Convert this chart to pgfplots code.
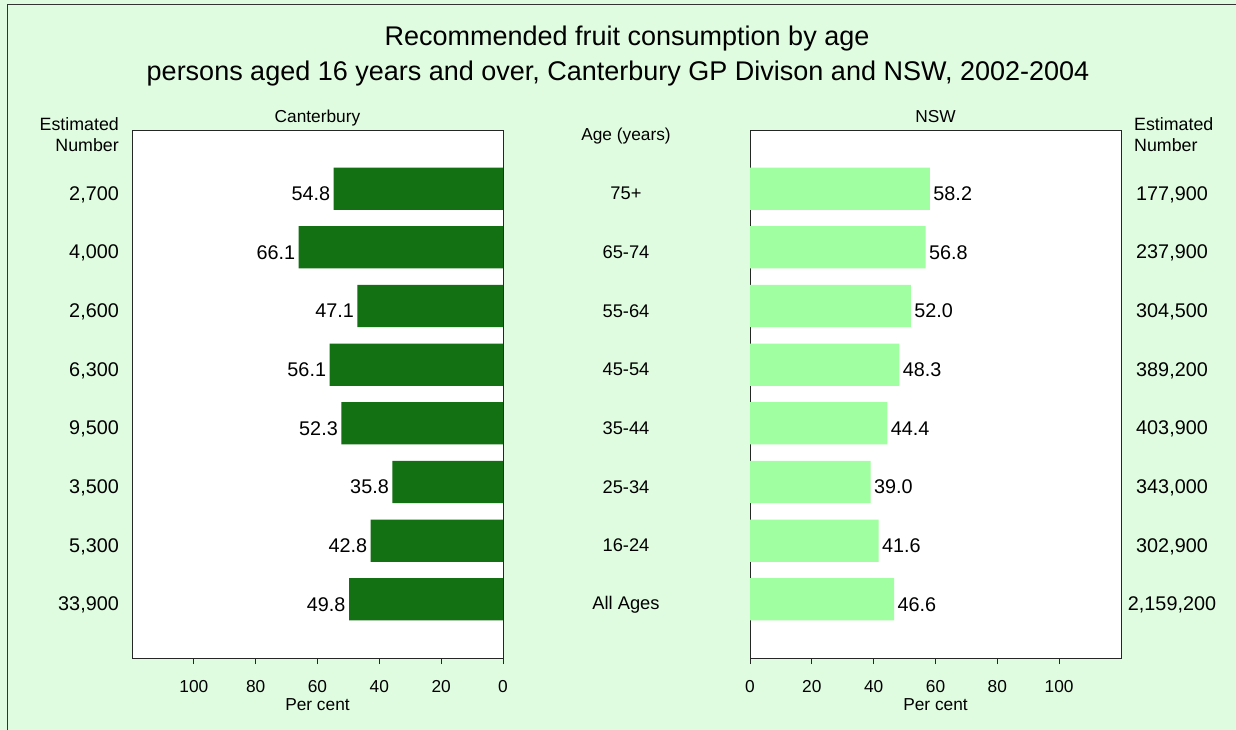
\documentclass[border=0pt]{standalone}
\usepackage{fontspec}
\setmainfont{Liberation Sans}
\usepackage{pgfplots}
\usepackage{pgfplotstable}
\pgfplotsset{compat=1.18}
\definecolor{bg}{HTML}{E0FCE0}
\definecolor{darkbar}{HTML}{137013}
\definecolor{lightbar}{HTML}{A0FFA0}
\newcommand{\lbl}{\fontsize{17.3}{21}\selectfont}
\newcommand{\vlbl}{\fontsize{19.8}{23}\selectfont}

\pgfplotstableread{
pos canterbury nsw
0 54.8 58.2
1 66.1 56.8
2 47.1 52.0
3 56.1 48.3
4 52.3 44.4
5 35.8 39.0
6 42.8 41.6
7 49.8 46.6
}\fruit

\pgfplotsset{panel/.style={
  scale only axis, width=371pt, height=528pt,
  xmin=0, xmax=120, ymin=-1, ymax=8, y dir=reverse,
  xbar, bar width=0.72,
  xtick={0,20,40,60,80,100}, xtick pos=bottom, tick align=outside,
  major tick length=6pt,
  ytick={0,...,7}, y tick style={draw=none},
  axis line style={black!85, line width=0.9pt},
  x tick style={black!85, line width=0.9pt},
  axis background/.style={fill=white},
  xticklabel style={font=\lbl, anchor=base, yshift=-28pt},
  yticklabel style={font=\vlbl},
  label style={font=\lbl},
  xlabel={Per cent},
  xlabel style={at={(0.5,0)}, anchor=base, yshift=-52pt},
  title style={font=\lbl, at={(0.5,1)}, anchor=base, yshift=2pt},
  point meta=x,
  nodes near coords={\pgfmathprintnumber[fixed,fixed zerofill,precision=1]{\pgfplotspointmeta}},
  nodes near coords style={font=\vlbl, text=black, yshift=-5pt},
  clip=false,
}}

\begin{document}
\begin{tikzpicture}
\pgfkeys{/pgf/number format/assume math mode=true}
\useasboundingbox (0,0) rectangle (1236pt,-730pt);
\fill[bg] (0,0) rectangle (1236pt,-730pt);
\draw[black!80, line width=1pt] (7pt,-730pt) -- (7pt,-5pt) -- (1236pt,-5pt);
\node[font=\fontsize{27}{35}\selectfont, anchor=base] at (627pt,-46pt) {Recommended fruit consumption by age};
\node[font=\fontsize{27}{35}\selectfont, anchor=base] at (618pt,-81pt) {persons aged 16 years and over, Canterbury GP Divison and NSW, 2002-2004};
\node[font=\fontsize{17.8}{21}\selectfont, inner sep=0pt, anchor=base east] at (119pt,-131pt) {Estimated};
\node[font=\fontsize{17.8}{21}\selectfont, inner sep=0pt, anchor=base east] at (119pt,-152pt) {Number};
\node[font=\fontsize{17.8}{21}\selectfont, inner sep=0pt, anchor=base west] at (1134pt,-131pt) {Estimated};
\node[font=\fontsize{17.8}{21}\selectfont, inner sep=0pt, anchor=base west] at (1134pt,-152pt) {Number};

\begin{axis}[panel, at={(132pt,-130pt)}, anchor=north west, x dir=reverse,
  ytick pos=left,
  yticklabels={{2,700},{4,000},{2,600},{6,300},{9,500},{3,500},{5,300},{33,900}},
  yticklabel style={anchor=east, inner sep=0pt, xshift=-7pt, yshift=-6pt},
  title={Canterbury},
  every node near coord/.append style={anchor=east}]
\addplot[fill=darkbar, draw=none] table[x=canterbury, y=pos] {\fruit};
\end{axis}

\begin{axis}[panel, at={(750pt,-130pt)}, anchor=north west,
  ytick pos=right, yticklabel pos=right,
  yticklabels={{177,900},{237,900},{304,500},{389,200},{403,900},{343,000},{302,900},{2,159,200}},
  yticklabel style={anchor=center, inner sep=0pt, xshift=45pt, yshift=-6pt},
  title={NSW},
  every node near coord/.append style={anchor=west}]
\addplot[fill=lightbar, draw=none] table[x=nsw, y=pos] {\fruit};
\end{axis}

\begin{axis}[at={(626pt,-130pt)}, anchor=north, scale only axis, width=10pt, height=528pt,
  ymin=-1, ymax=8, y dir=reverse, xmin=0, xmax=1,
  hide x axis, axis line style={draw=none},
  ytick={0,...,7}, y tick style={draw=none},
  yticklabels={75+,65-74,55-64,45-54,35-44,25-34,16-24,All Ages},
  yticklabel style={anchor=center, inner sep=0pt, font=\fontsize{18.3}{21}\selectfont, xshift=5pt, yshift=-5pt},
  title={Age (years)},
  title style={font=\lbl, at={(0.5,1)}, anchor=base, yshift=-16pt}]
\end{axis}
\end{tikzpicture}
\end{document}
